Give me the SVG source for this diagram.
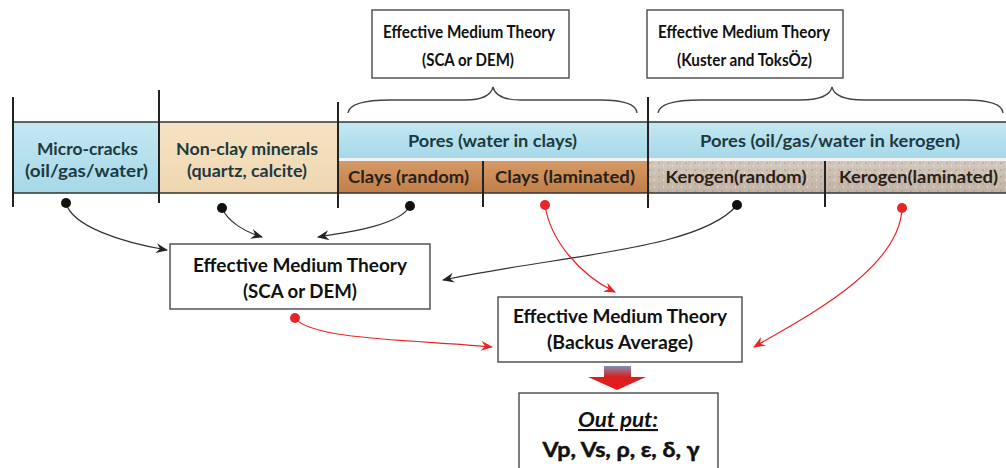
<svg xmlns="http://www.w3.org/2000/svg" width="1006" height="468" viewBox="0 0 1006 468">
<defs>
<style>
.box{fill:#fff;stroke:#555;stroke-width:1.5}
.t{font-family:Lato,"Liberation Sans",sans-serif;font-weight:bold;text-anchor:middle;fill:#111}
.bt{font-size:16.5px}
.mt{font-size:18px}
.ct{font-size:17px;fill:#1d3a40}
.kt{font-size:17px;fill:#2a2018}
.sep{stroke:#222;stroke-width:2}
.hl{stroke:#333;stroke-width:1.5}
.brace{fill:none;stroke:#444;stroke-width:1.3}
.cb{fill:none;stroke:#333;stroke-width:1.2;marker-end:url(#ab)}
.cr{fill:none;stroke:#e8262a;stroke-width:1.2;marker-end:url(#ar)}
</style>
<marker id="ab" viewBox="0 0 12 10" refX="11" refY="5" markerWidth="12" markerHeight="10" markerUnits="userSpaceOnUse" orient="auto">
<path d="M0,0 L12,5 L0,10 L4,5 Z" fill="#222"/>
</marker>
<marker id="ar" viewBox="0 0 12 10" refX="11" refY="5" markerWidth="12" markerHeight="10" markerUnits="userSpaceOnUse" orient="auto">
<path d="M0,0 L12,5 L0,10 L4,5 Z" fill="#e8262a"/>
</marker>
<linearGradient id="gb" x1="0" y1="0" x2="0" y2="1">
<stop offset="0" stop-color="#c4e8f2"/><stop offset="1" stop-color="#a6d8e8"/>
</linearGradient>
<linearGradient id="gt" x1="0" y1="0" x2="0" y2="1">
<stop offset="0" stop-color="#f6e3c4"/><stop offset="1" stop-color="#efd6b0"/>
</linearGradient>
<linearGradient id="gc" x1="0" y1="0" x2="0" y2="1">
<stop offset="0" stop-color="#d59a68"/><stop offset="1" stop-color="#c07e48"/>
</linearGradient>
<linearGradient id="gk" x1="0" y1="0" x2="0" y2="1">
<stop offset="0" stop-color="#d4c9bd"/><stop offset="1" stop-color="#c0b3a5"/>
</linearGradient>
<pattern id="speck" width="9" height="7" patternUnits="userSpaceOnUse">
<circle cx="2" cy="2" r="0.7" fill="#9a8d7e"/><circle cx="6.5" cy="5" r="0.7" fill="#eee5da"/><circle cx="5" cy="1" r="0.5" fill="#a89b8c"/>
</pattern>
<linearGradient id="ga" x1="0" y1="0" x2="0" y2="1">
<stop offset="0" stop-color="#8090b4"/><stop offset="0.45" stop-color="#d82020"/><stop offset="1" stop-color="#e81818"/>
</linearGradient>
</defs>

<g id="strip">
<rect x="13" y="122" width="146" height="71" fill="url(#gb)"/>
<rect x="159" y="122" width="179" height="71" fill="url(#gt)"/>
<rect x="338" y="122" width="668" height="36" fill="url(#gb)"/>
<rect x="338" y="161" width="310" height="32" fill="url(#gc)"/>
<rect x="648" y="161" width="358" height="32" fill="url(#gk)"/>
<rect x="648" y="161" width="358" height="32" fill="url(#speck)"/>
<line class="hl" x1="13" y1="122" x2="1006" y2="122"/>
<line class="hl" x1="13" y1="193" x2="1006" y2="193"/>
<line x1="338" y1="159.5" x2="1006" y2="159.5" stroke="#f2f2f2" stroke-width="3"/>
<line class="sep" x1="13" y1="97" x2="13" y2="207"/>
<line class="sep" x1="159" y1="90" x2="159" y2="203"/>
<line class="sep" x1="338" y1="102" x2="338" y2="208"/>
<line class="sep" x1="648" y1="97" x2="648" y2="208"/>
<line class="sep" x1="483" y1="161" x2="483" y2="207"/>
<line class="sep" x1="825" y1="161" x2="825" y2="207"/>
</g>

<g id="micro"><text class="t ct" x="87.5" y="155" textLength="101" lengthAdjust="spacingAndGlyphs">Micro-cracks</text><text class="t ct" x="86.5" y="177" textLength="123" lengthAdjust="spacingAndGlyphs">(oil/gas/water)</text></g>
<g id="nonclay"><text class="t ct" x="247" y="155" textLength="142" lengthAdjust="spacingAndGlyphs">Non-clay minerals</text><text class="t ct" x="247" y="177" textLength="120" lengthAdjust="spacingAndGlyphs">(quartz, calcite)</text></g>
<g id="pores1"><text class="t ct" x="492.5" y="147" textLength="169" lengthAdjust="spacingAndGlyphs">Pores (water in clays)</text></g>
<g id="pores2"><text class="t ct" x="830" y="147" textLength="260" lengthAdjust="spacingAndGlyphs">Pores (oil/gas/water in kerogen)</text></g>
<g id="clayr"><text class="t kt" x="408.5" y="183" textLength="121" lengthAdjust="spacingAndGlyphs">Clays (random)</text></g>
<g id="clayl"><text class="t kt" x="565" y="183" textLength="140" lengthAdjust="spacingAndGlyphs">Clays (laminated)</text></g>
<g id="kerr"><text class="t kt" x="736" y="183" textLength="141" lengthAdjust="spacingAndGlyphs">Kerogen(random)</text></g>
<g id="kerl"><text class="t kt" x="918.5" y="183" textLength="159" lengthAdjust="spacingAndGlyphs">Kerogen(laminated)</text></g>

<g id="braces">
<path class="brace" d="M348,113 Q350,100 390,100 L465,100 Q490,100 493,87 Q496,100 521,100 L600,100 Q636,100 637,113"/>
<path class="brace" d="M658,113 Q660,100 700,100 L800,100 Q829,100 832,87 Q835,100 864,100 L965,100 Q1002,100 1003,113"/>
</g>

<g id="emt-top1"><rect class="box" x="372" y="10" width="197" height="68"/><text class="t bt" x="469" y="38" textLength="172" lengthAdjust="spacingAndGlyphs">Effective Medium Theory</text><text class="t bt" x="468" y="66" textLength="92" lengthAdjust="spacingAndGlyphs">(SCA or DEM)</text></g>
<g id="emt-top2"><rect class="box" x="647" y="10" width="196" height="68"/><text class="t bt" x="744" y="38" textLength="172" lengthAdjust="spacingAndGlyphs">Effective Medium Theory</text><text class="t bt" x="744.5" y="66" textLength="135" lengthAdjust="spacingAndGlyphs">(Kuster and ToksÖz)</text></g>
<g id="emt-sca"><rect class="box" x="170" y="244" width="260" height="65"/><text class="t mt" x="300" y="272" textLength="214" lengthAdjust="spacingAndGlyphs">Effective Medium Theory</text><text class="t mt" x="300" y="298" textLength="114" lengthAdjust="spacingAndGlyphs">(SCA or DEM)</text></g>
<g id="emt-backus"><rect class="box" x="498" y="297" width="244" height="65"/><text class="t mt" x="620" y="323" textLength="214" lengthAdjust="spacingAndGlyphs">Effective Medium Theory</text><text class="t mt" x="620" y="349" textLength="146" lengthAdjust="spacingAndGlyphs">(Backus Average)</text></g>
<g id="output"><rect class="box" x="519" y="393" width="199" height="78"/>
<text class="t" x="618" y="427" font-size="21" font-style="italic" text-decoration="underline" textLength="80" lengthAdjust="spacingAndGlyphs">Out put:</text>
<text class="t" x="621" y="457" font-size="21" font-weight="normal" stroke="#111" stroke-width="0.5" textLength="157" lengthAdjust="spacingAndGlyphs">Vp, Vs, ρ, ε, δ, γ</text></g>

<g id="connectors">
<path class="cb" d="M66,203 C72,226 120,242 167,250"/>
<path class="cb" d="M222,208 C228,222 245,232 262,237"/>
<path class="cb" d="M410,206 C400,225 350,232 318,237"/>
<path class="cb" d="M737,205 C700,250 560,255 443,280"/>
<path class="cr" d="M545,205 C550,240 580,275 615,292"/>
<path class="cr" d="M295,318 C310,340 420,340 492,347"/>
<path class="cr" d="M902,208 C900,270 800,320 754,347"/>
<circle cx="66" cy="203" r="5" fill="#111"/>
<circle cx="222" cy="208" r="5" fill="#111"/>
<circle cx="410" cy="206" r="5" fill="#111"/>
<circle cx="737" cy="205" r="5" fill="#111"/>
<circle cx="545" cy="205" r="5" fill="#e8262a"/>
<circle cx="295" cy="318" r="5" fill="#e8262a"/>
<circle cx="902" cy="208" r="5" fill="#e8262a"/>
<path d="M604,366 L631,366 L631,377 L646,377 L617,390 L588,377 L604,377 Z" fill="url(#ga)"/>
</g>
</svg>
